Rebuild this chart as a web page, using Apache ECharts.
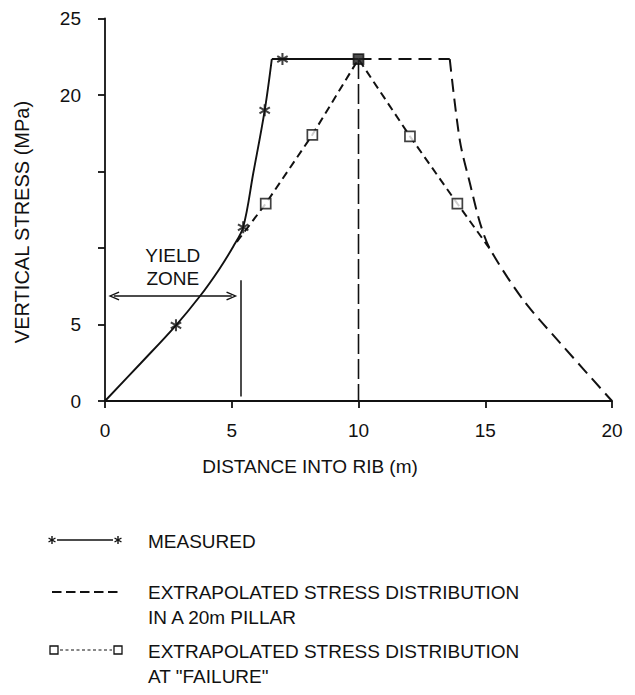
<!DOCTYPE html>
<html><head><meta charset="utf-8">
<script src="https://cdn.jsdelivr.net/npm/echarts@6/dist/echarts.min.js"></script>
<style>html,body{margin:0;padding:0;background:#fff}#c{width:635px;height:695px}</style>
</head><body><div id="c"></div>
<script>
// ---- data ----
const xTickValues = [0, 5, 10, 15, 20];
const yTickLabels = [0, 5, 20, 25];

const measuredCurveX = [0, 1.4, 2.8, 3.75, 4.5, 5.06, 5.45, 5.85, 6.3, 6.58];
const measuredCurveY = [0, 2.45, 4.95, 6.86, 8.6, 10.1, 11.35, 14.9, 19.0, 22.35];
const measuredFlatX = [6.58, 10];
const measuredFlatY = [22.35, 22.35];
const measuredStarX = [2.8, 5.45, 6.3, 7.0];
const measuredStarY = [4.95, 11.35, 19.0, 22.35];

const pillarFlatX = [10, 13.6];
const pillarFlatY = [22.35, 22.35];
const pillarCurveX = [13.6, 14.0, 14.4, 14.8, 15.2, 16.5, 17.95, 20];
const pillarCurveY = [22.35, 17.0, 14.2, 11.6, 9.9, 6.6, 3.8, 0];
const centreLineX = [10, 10];
const centreLineY = [22.35, 0];

const failureX = [5.2, 6.34, 8.18, 10, 12.03, 13.9, 15.2];
const failureY = [10.4, 12.9, 17.4, 22.35, 17.3, 12.9, 9.9];
const failureMarkX = [6.34, 8.18, 10, 12.03, 13.9];
const failureMarkY = [12.9, 17.4, 22.35, 17.3, 12.9];
const peakX = 10;

const yieldZoneX = [0.35, 5.0];
const yieldZoneY = 6.86;
const yieldBoundaryX = 5.35;
const yieldBoundaryY = [0.3, 7.9];

const legendLabels = ['MEASURED',
  'EXTRAPOLATED STRESS DISTRIBUTION\nIN A 20m PILLAR',
  'EXTRAPOLATED STRESS DISTRIBUTION\nAT "FAILURE"'];

// ---- helpers ----
const zip = (xs, ys) => xs.map((x, i) => [x, ys[i]]);
const FONT = '"Liberation Sans", Arial, Helvetica, sans-serif';
const INK = '#111';

// six-armed asterisk outline (single non-overlapping polygon)
function asteriskPath(r, w) {
  const pts = [];
  for (let k = 0; k < 6; k++) {
    const t = (30 + 60 * k) * Math.PI / 180;
    const ux = Math.cos(t), uy = Math.sin(t), vx = -uy, vy = ux;
    pts.push([r * ux - w * vx, r * uy - w * vy]);
    pts.push([r * ux + w * vx, r * uy + w * vy]);
    const tm = t + Math.PI / 6;
    pts.push([2 * w * Math.cos(tm), 2 * w * Math.sin(tm)]);
  }
  return 'path://' + pts.map((p, i) => (i ? 'L' : 'M') + p[0].toFixed(3) + ',' + p[1].toFixed(3)).join('') + 'Z';
}
const STAR = asteriskPath(10, 1.7);
const CHEVRON = 'path://M0,0L4.6,10L3.3,10.6L0,3.1L-3.3,10.6L-4.6,10Z';

function starLines(cx, cy, r) {
  const out = [];
  [90, 30, 150].forEach(a => {
    const t = a * Math.PI / 180, dx = r * Math.cos(t), dy = r * Math.sin(t);
    out.push({ type: 'line', shape: { x1: cx - dx, y1: cy - dy, x2: cx + dx, y2: cy + dy },
      style: { stroke: INK, lineWidth: 1.4 } });
  });
  return out;
}

const chart = echarts.init(document.getElementById('c'), null, { renderer: 'svg' });

const lineBase = { type: 'line', showSymbol: false, symbol: 'none', silent: true, animation: false };
const TXT = { fill: INK, textVerticalAlign: 'middle' };

const failurePoints = zip(failureMarkX, failureMarkY).map(p => p[0] === peakX
  ? { value: p, itemStyle: { color: '#222', borderColor: INK } } : p);

const option = {
  backgroundColor: '#fff',
  animation: false,
  grid: { left: 105, right: 23, top: 18.5, bottom: 294 },
  xAxis: {
    type: 'value', min: 0, max: 20, interval: 5,
    axisLine: { lineStyle: { color: INK, width: 1.8 } },
    axisTick: { show: true, length: 7, lineStyle: { color: INK, width: 1.8 } },
    axisLabel: { color: INK, fontSize: 19, fontFamily: FONT, margin: 20,
      formatter: v => xTickValues.includes(v) ? String(v) : '' },
    splitLine: { show: false }
  },
  yAxis: {
    type: 'value', min: 0, max: 25, interval: 5,
    axisLine: { show: true, lineStyle: { color: INK, width: 1.8 } },
    axisTick: { show: true, length: 7, lineStyle: { color: INK, width: 1.8 } },
    axisLabel: { color: INK, fontSize: 19, fontFamily: FONT, margin: 24,
      formatter: v => yTickLabels.includes(v) ? String(v) : '' },
    splitLine: { show: false }
  },
  series: [
    Object.assign({}, lineBase, { name: 'Measured', data: zip(measuredCurveX, measuredCurveY), smooth: 0.35,
      lineStyle: { color: INK, width: 1.9 }, z: 3 }),
    Object.assign({}, lineBase, { name: 'Measured flat', data: zip(measuredFlatX, measuredFlatY),
      lineStyle: { color: INK, width: 1.9 }, z: 3 }),
    { type: 'scatter', name: 'Measured points', data: zip(measuredStarX, measuredStarY),
      symbol: STAR, symbolSize: 12, symbolKeepAspect: true, itemStyle: { color: INK }, z: 6, silent: true },
    Object.assign({}, lineBase, { name: 'Pillar flat', data: zip(pillarFlatX, pillarFlatY),
      lineStyle: { color: INK, width: 2, type: [13, 7] }, z: 3 }),
    Object.assign({}, lineBase, { name: 'Pillar', data: zip(pillarCurveX, pillarCurveY), smooth: 0.3,
      lineStyle: { color: INK, width: 2, type: [13, 7] }, z: 3 }),
    Object.assign({}, lineBase, { name: 'Pillar centre', data: zip(centreLineX, centreLineY),
      lineStyle: { color: INK, width: 1.6, type: [20, 5] }, z: 2 }),
    Object.assign({}, lineBase, { name: 'Failure', data: zip(failureX, failureY),
      lineStyle: { color: INK, width: 2, type: [8, 5] }, z: 4 }),
    { type: 'scatter', name: 'Failure points', data: failurePoints,
      symbol: 'rect', symbolSize: 10,
      itemStyle: { color: '#fff', borderColor: INK, borderWidth: 1.7 }, z: 7, silent: true },
    Object.assign({}, lineBase, { name: 'Yield zone', data: [], z: 5,
      markLine: {
        silent: true, animation: false, symbol: [CHEVRON, CHEVRON], symbolSize: [9, 11],
        lineStyle: { color: INK, width: 1.5, type: 'solid' },
        label: { show: false },
        data: [
          [{ coord: [yieldZoneX[0], yieldZoneY],
             label: { show: true, position: 'insideMiddleTop', distance: 6, formatter: 'YIELD\nZONE',
               color: INK, fontSize: 19, fontFamily: FONT, lineHeight: 23, align: 'center' } },
           { coord: [yieldZoneX[1], yieldZoneY] }],
          [{ coord: [yieldBoundaryX, yieldBoundaryY[0]], symbol: 'none' },
           { coord: [yieldBoundaryX, yieldBoundaryY[1]], symbol: 'none' }]
        ]
      }
    })
  ],
  graphic: [
    { type: 'text', x: 310, y: 466, style: Object.assign({ text: 'DISTANCE INTO RIB (m)', font: '19px ' + FONT,
      textAlign: 'center' }, TXT) },
    { type: 'text', x: 22, y: 222, rotation: Math.PI / 2, style: Object.assign({ text: 'VERTICAL STRESS (MPa)',
      font: '20px ' + FONT, textAlign: 'center' }, TXT) },
    // legend row 1
    { type: 'line', shape: { x1: 57, y1: 540, x2: 113, y2: 540 }, style: { stroke: INK, lineWidth: 1.5 } },
    ...starLines(52, 540, 4),
    ...starLines(118, 540, 4),
    { type: 'text', x: 148, y: 541, style: Object.assign({ text: legendLabels[0], font: '19px ' + FONT }, TXT) },
    // legend row 2
    { type: 'line', shape: { x1: 52, y1: 592, x2: 121, y2: 592 },
      style: { stroke: INK, lineWidth: 1.8, lineDash: [9.5, 4.5] } },
    { type: 'text', x: 148, y: 592, style: Object.assign({ text: legendLabels[1].split('\n')[0], font: '19px ' + FONT }, TXT) },
    { type: 'text', x: 148, y: 617, style: Object.assign({ text: legendLabels[1].split('\n')[1], font: '19px ' + FONT }, TXT) },
    // legend row 3
    { type: 'rect', shape: { x: 50, y: 646, width: 8, height: 8 }, style: { fill: '#fff', stroke: INK, lineWidth: 1.3 } },
    { type: 'rect', shape: { x: 114, y: 646, width: 8, height: 8 }, style: { fill: '#fff', stroke: INK, lineWidth: 1.3 } },
    { type: 'line', shape: { x1: 60, y1: 650, x2: 112, y2: 650 },
      style: { stroke: INK, lineWidth: 1.2, lineDash: [3, 2.5] } },
    { type: 'text', x: 148, y: 651, style: Object.assign({ text: legendLabels[2].split('\n')[0], font: '19px ' + FONT }, TXT) },
    { type: 'text', x: 148, y: 676, style: Object.assign({ text: legendLabels[2].split('\n')[1], font: '19px ' + FONT }, TXT) }
  ]
};
chart.setOption(option);
</script>
</body></html>
